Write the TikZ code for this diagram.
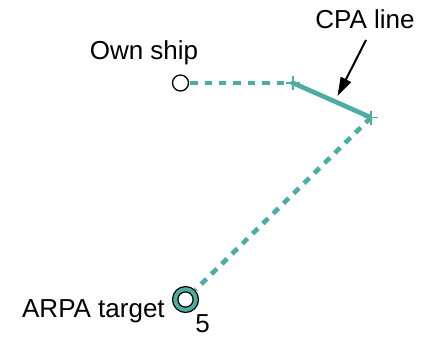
\documentclass[tikz,border=0pt]{standalone}
\usepackage{fontspec}
\setmainfont{Liberation Sans}
\usetikzlibrary{arrows.meta,calc}
\definecolor{teal}{RGB}{77,173,163}
\begin{document}
\begin{tikzpicture}[x=0.75pt,y=-0.75pt,
  lbl/.style={font=\fontsize{19.5}{22}\selectfont,inner sep=0pt},
  dotline/.style={draw=teal,line width=3.5pt,dash pattern=on 5.6pt off 5.2pt},
  cpaline/.style={draw=teal,line width=3.5pt},
  crossmark/.style={draw=teal,line width=1.1pt}]
\useasboundingbox (0,0) rectangle (423,336);
% positions
\coordinate (own) at (180.5,83);
\coordinate (p1) at (293,83);
\coordinate (p2) at (371,117.5);
\coordinate (tgt) at (185.5,299.5);
% own ship
\node[circle,draw=black,line width=1pt,fill=white,minimum size=16*0.75pt,inner sep=0pt] (ownc) at (own) {};
% target
\node[circle,draw=teal,line width=3.8pt,minimum size=20.5*0.75pt,inner sep=0pt] (tgtc) at (tgt) {};
\draw[black,line width=0.9pt] (tgt) circle[radius=13];
\draw[black,line width=0.9pt] (tgt) circle[radius=7.6];
% lines
\draw[dotline] ($(ownc.east)+(1,0)$) -- (p1);
\draw[cpaline] (p1) -- (p2);
\draw[dotline] (p2) -- ($(tgt)!10.5pt!(p2)$);
% crosses
\draw[crossmark] ($(p1)+(-7,0)$) -- ($(p1)+(7,0)$) ($(p1)+(0,-7)$) -- ($(p1)+(0,7)$);
\draw[crossmark] ($(p2)+(-7,0)$) -- ($(p2)+(7,0)$) ($(p2)+(0,-7)$) -- ($(p2)+(0,7)$);
% labels
\node[lbl,anchor=base] (ownl) at (144,59) {Own ship};
\node[lbl,anchor=base] (cpal) at (365,28) {CPA line};
\node[lbl,anchor=base east] (tgtl) at (165,317) {ARPA target};
\node[lbl,anchor=base] (num) at (202.5,332) {5};
% arrow
\coordinate (arrs) at (366,40);
\coordinate (arre) at (337.5,96);
\draw[black,line width=1.5pt,-{Triangle[length=14pt,width=8.5pt]}] (arrs) -- (arre);
\end{tikzpicture}
\end{document}
